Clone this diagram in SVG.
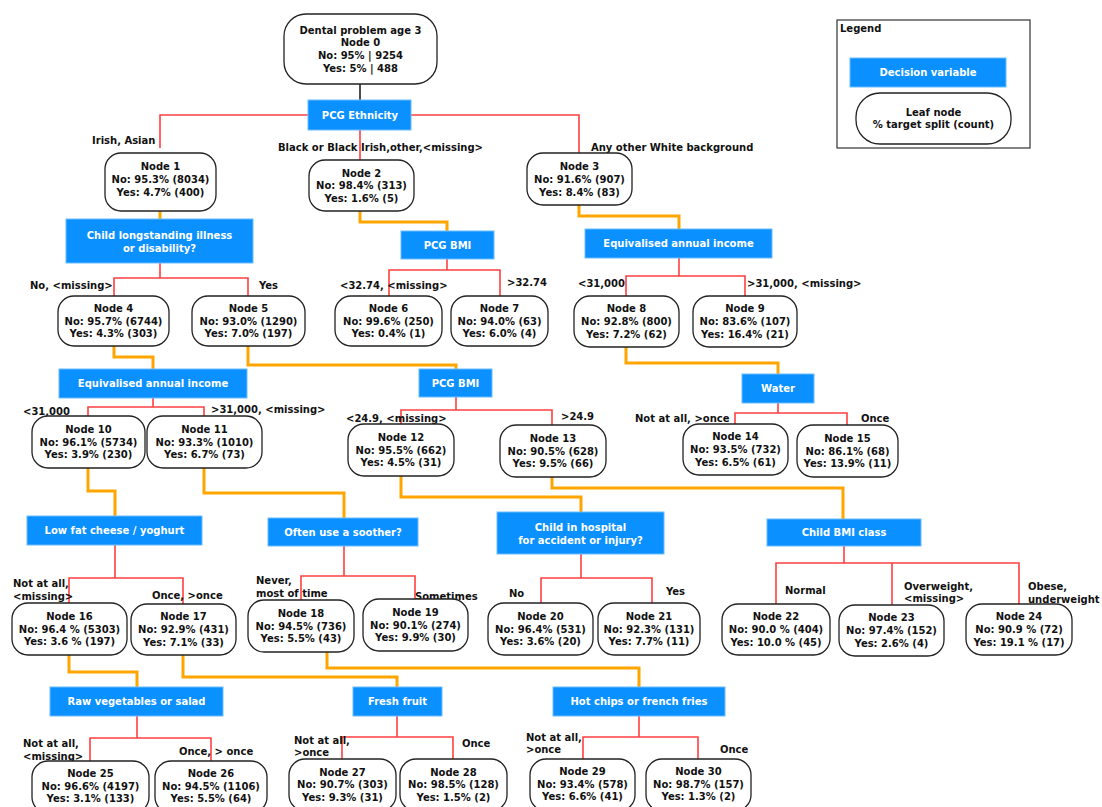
<svg xmlns="http://www.w3.org/2000/svg" width="1102" height="807" viewBox="0 0 1102 807">
<style>
text{font-family:"DejaVu Sans","Liberation Sans",sans-serif;font-weight:bold;font-size:10px;fill:#111}
.n rect{fill:#fff;stroke:#222;stroke-width:1.3}
.n text{text-anchor:middle}
.d rect{fill:#0a90ff;stroke:#6cbcff;stroke-width:1}
.d text{fill:#fff;text-anchor:middle}
.red{fill:none;stroke:#ff4040;stroke-width:1.6}
.or{fill:none;stroke:#ffa500;stroke-width:3}
.blk{fill:none;stroke:#222;stroke-width:1.6}
</style>
<rect width="1102" height="807" fill="#fff"/>
<g id="connectors">
<path class="blk" d="M360,84V100"/>
<path class="red" d="M308,115H160V148M360,130V160M411,115H579V153"/>
<path class="red" d="M160,263V278M114,296V278H248V296"/>
<path class="red" d="M447,259V270M389,296V270H500V296"/>
<path class="red" d="M679,258V276M626,296V276H745V296"/>
<path class="red" d="M153,398V407M88,416V407H204V416"/>
<path class="red" d="M456,397V410M401,424V410H552V425"/>
<path class="red" d="M778,403V413M735,424V413H847V425"/>
<path class="red" d="M115,545V578M69,603V578H183V604"/>
<path class="red" d="M344,546V576M301,600V576H415V599"/>
<path class="red" d="M581,554V578M541,603V578H652V603"/>
<path class="red" d="M844,546V563M776,604V563H1019V604M892,563V605"/>
<path class="red" d="M137,716V738M90,761V738H211V761"/>
<path class="red" d="M397,716V737M342,759V737H453V759"/>
<path class="red" d="M639,715V737M583,759V737H698V759"/>
<path class="or" d="M160,211V219"/>
<path class="or" d="M360,211V222H447V231"/>
<path class="or" d="M579,205V216H679V229"/>
<path class="or" d="M114,346V357H153V369"/>
<path class="or" d="M248,346V365H456V369"/>
<path class="or" d="M626,347V363H778V374"/>
<path class="or" d="M88,468V491H115V516"/>
<path class="or" d="M204,468V493H344V518"/>
<path class="or" d="M401,476V497H581V512"/>
<path class="or" d="M552,477V488H843V519"/>
<path class="or" d="M69,655V672H137V687"/>
<path class="or" d="M183,655V677H397V687"/>
<path class="or" d="M327,652V668H639V687"/>
</g>
<g id="labels">
<text x="92" y="143.5">Irish, Asian</text>
<text x="278" y="150.5">Black or Black Irish,other,&lt;missing&gt;</text>
<text x="591" y="150.5">Any other White background</text>
<text x="30" y="288.5">No, &lt;missing&gt;</text>
<text x="259" y="289">Yes</text>
<text x="340" y="288.5">&lt;32.74, &lt;missing&gt;</text>
<text x="507" y="285.5">&gt;32.74</text>
<text x="578" y="286.5">&lt;31,000</text>
<text x="747" y="286.5">&gt;31,000, &lt;missing&gt;</text>
<text x="23" y="415">&lt;31,000</text>
<text x="211" y="412.5">&gt;31,000, &lt;missing&gt;</text>
<text x="346" y="421.5">&lt;24.9, &lt;missing&gt;</text>
<text x="561" y="419.5">&gt;24.9</text>
<text x="635" y="421.5">Not at all, &gt;once</text>
<text x="861" y="421.5">Once</text>
<text x="13" y="586.5">Not at all,</text>
<text x="13" y="599.5">&lt;missing&gt;</text>
<text x="152" y="599">Once, &gt;once</text>
<text x="256" y="584">Never,</text>
<text x="256" y="596.5">most of time</text>
<text x="415" y="599.5">Sometimes</text>
<text x="509" y="596.5">No</text>
<text x="666" y="594.5">Yes</text>
<text x="785" y="593.5">Normal</text>
<text x="904" y="589.5">Overweight,</text>
<text x="904" y="601.5">&lt;missing&gt;</text>
<text x="1028" y="589.5">Obese,</text>
<text x="1028" y="602.5">underweight</text>
<text x="23" y="746.5">Not at all,</text>
<text x="23" y="759.5">&lt;missing&gt;</text>
<text x="179" y="754.5">Once, &gt; once</text>
<text x="294" y="743.5">Not at all,</text>
<text x="294" y="755.5">&gt;once</text>
<text x="462" y="746.5">Once</text>
<text x="526" y="740.5">Not at all,</text>
<text x="526" y="753">&gt;once</text>
<text x="720" y="752.5">Once</text>
</g>
<g id="legend">
<rect x="837" y="20" width="193" height="128" fill="#fff" stroke="#333" stroke-width="1.2"/>
<text x="840" y="31.5">Legend</text>
<g class="d"><rect x="850" y="58" width="156" height="29"/><text x="928" y="75.5">Decision variable</text></g>
<g class="n"><rect x="856" y="93" width="155" height="51" rx="24"/><text x="933.5" y="115.5">Leaf node</text><text x="933.5" y="128">% target split (count)</text></g>
</g>
<g id="node0" class="n"><rect x="284" y="14" width="153" height="70" rx="22" stroke-width="2.5"/><text x="360.5" y="33.7">Dental problem age 3</text><text x="360.5" y="46.4">Node 0</text><text x="360.5" y="59.1">No: 95% | 9254</text><text x="360.5" y="71.8">Yes: 5% | 488</text></g>
<g id="dec_ethnicity" class="d"><rect x="308" y="100" width="103" height="30"/><text x="360" y="118.5">PCG Ethnicity</text></g>
<g id="node1" class="n"><rect x="105" y="153" width="111" height="58" rx="16"/><text x="160.5" y="169.5">Node 1</text><text x="160.5" y="182.5">No: 95.3% (8034)</text><text x="160.5" y="195.5">Yes: 4.7% (400)</text></g>
<g id="node2" class="n"><rect x="309" y="160" width="105" height="51" rx="16"/><text x="361.5" y="176.5">Node 2</text><text x="361.5" y="189.2">No: 98.4% (313)</text><text x="361.5" y="201.9">Yes: 1.6% (5)</text></g>
<g id="node3" class="n"><rect x="527" y="153" width="105" height="52" rx="16"/><text x="579.5" y="169.5">Node 3</text><text x="579.5" y="182.5">No: 91.6% (907)</text><text x="579.5" y="195.5">Yes: 8.4% (83)</text></g>
<g id="dec_illness" class="d"><rect x="66" y="219" width="187" height="44"/><text x="159.5" y="238.5">Child longstanding illness</text><text x="159.5" y="251.5">or disability?</text></g>
<g id="dec_bmi1" class="d"><rect x="401" y="231" width="93" height="28"/><text x="447.5" y="248.5">PCG BMI</text></g>
<g id="dec_income_r" class="d"><rect x="585" y="229" width="187" height="29"/><text x="678.5" y="246.5">Equivalised annual income</text></g>
<g id="node4" class="n"><rect x="58" y="296" width="111" height="50" rx="16"/><text x="113.5" y="311.8">Node 4</text><text x="113.5" y="324.5">No: 95.7% (6744)</text><text x="113.5" y="337.2">Yes: 4.3% (303)</text></g>
<g id="node5" class="n"><rect x="192" y="296" width="113" height="50" rx="16"/><text x="248.5" y="311.8">Node 5</text><text x="248.5" y="324.5">No: 93.0% (1290)</text><text x="248.5" y="337.2">Yes: 7.0% (197)</text></g>
<g id="node6" class="n"><rect x="335" y="296" width="107" height="50" rx="16"/><text x="388.5" y="311.8">Node 6</text><text x="388.5" y="324.5">No: 99.6% (250)</text><text x="388.5" y="337.2">Yes: 0.4% (1)</text></g>
<g id="node7" class="n"><rect x="451" y="296" width="97" height="50" rx="16"/><text x="499.5" y="311.8">Node 7</text><text x="499.5" y="324.5">No: 94.0% (63)</text><text x="499.5" y="337.2">Yes: 6.0% (4)</text></g>
<g id="node8" class="n"><rect x="574" y="296" width="105" height="51" rx="16"/><text x="626.5" y="312.3">Node 8</text><text x="626.5" y="325">No: 92.8% (800)</text><text x="626.5" y="337.7">Yes: 7.2% (62)</text></g>
<g id="node9" class="n"><rect x="693" y="296" width="104" height="51" rx="16"/><text x="745" y="312.3">Node 9</text><text x="745" y="325">No: 83.6% (107)</text><text x="745" y="337.7">Yes: 16.4% (21)</text></g>
<g id="dec_income_l" class="d"><rect x="59" y="369" width="188" height="29"/><text x="153" y="386.5">Equivalised annual income</text></g>
<g id="dec_bmi2" class="d"><rect x="419" y="369" width="73" height="28"/><text x="455.5" y="386.5">PCG BMI</text></g>
<g id="dec_water" class="d"><rect x="742" y="374" width="72" height="29"/><text x="778" y="391.5">Water</text></g>
<g id="node10" class="n"><rect x="32" y="416" width="113" height="52" rx="16"/><text x="88.5" y="432.8">Node 10</text><text x="88.5" y="445.5">No: 96.1% (5734)</text><text x="88.5" y="458.2">Yes: 3.9% (230)</text></g>
<g id="node11" class="n"><rect x="147" y="416" width="115" height="52" rx="16"/><text x="204.5" y="432.8">Node 11</text><text x="204.5" y="445.5">No: 93.3% (1010)</text><text x="204.5" y="458.2">Yes: 6.7% (73)</text></g>
<g id="node12" class="n"><rect x="348" y="424" width="106" height="52" rx="16"/><text x="401" y="440.8">Node 12</text><text x="401" y="453.5">No: 95.5% (662)</text><text x="401" y="466.2">Yes: 4.5% (31)</text></g>
<g id="node13" class="n"><rect x="500" y="425" width="106" height="52" rx="16"/><text x="553" y="441.8">Node 13</text><text x="553" y="454.5">No: 90.5% (628)</text><text x="553" y="467.2">Yes: 9.5% (66)</text></g>
<g id="node14" class="n"><rect x="683" y="424" width="105" height="51" rx="16"/><text x="735.5" y="440.3">Node 14</text><text x="735.5" y="453">No: 93.5% (732)</text><text x="735.5" y="465.7">Yes: 6.5% (61)</text></g>
<g id="node15" class="n"><rect x="797" y="425" width="101" height="52" rx="16"/><text x="847.5" y="441.8">Node 15</text><text x="847.5" y="454.5">No: 86.1% (68)</text><text x="847.5" y="467.2">Yes: 13.9% (11)</text></g>
<g id="dec_lowfat" class="d"><rect x="27" y="516" width="175" height="29"/><text x="114.5" y="533.5">Low fat cheese / yoghurt</text></g>
<g id="dec_soother" class="d"><rect x="268" y="518" width="150" height="28"/><text x="343" y="535.5">Often use a soother?</text></g>
<g id="dec_hospital" class="d"><rect x="497" y="512" width="167" height="42"/><text x="580.5" y="530.5">Child in hospital</text><text x="580.5" y="543.5">for accident or injury?</text></g>
<g id="dec_childbmi" class="d"><rect x="767" y="519" width="154" height="27"/><text x="844" y="535.5">Child BMI class</text></g>
<g id="node16" class="n"><rect x="12" y="603" width="115" height="52" rx="16"/><text x="69.5" y="619.8">Node 16</text><text x="69.5" y="632.5">No: 96.4 % (5303)</text><text x="69.5" y="645.2">Yes: 3.6 % (197)</text></g>
<g id="node17" class="n"><rect x="131" y="604" width="105" height="51" rx="16"/><text x="183.5" y="620.3">Node 17</text><text x="183.5" y="633">No: 92.9% (431)</text><text x="183.5" y="645.7">Yes: 7.1% (33)</text></g>
<g id="node18" class="n"><rect x="248" y="600" width="106" height="52" rx="16"/><text x="301" y="616.8">Node 18</text><text x="301" y="629.5">No: 94.5% (736)</text><text x="301" y="642.2">Yes: 5.5% (43)</text></g>
<g id="node19" class="n"><rect x="363" y="599" width="105" height="52" rx="16"/><text x="415.5" y="615.8">Node 19</text><text x="415.5" y="628.5">No: 90.1% (274)</text><text x="415.5" y="641.2">Yes: 9.9% (30)</text></g>
<g id="node20" class="n"><rect x="488" y="603" width="105" height="52" rx="16"/><text x="540.5" y="619.8">Node 20</text><text x="540.5" y="632.5">No: 96.4% (531)</text><text x="540.5" y="645.2">Yes: 3.6% (20)</text></g>
<g id="node21" class="n"><rect x="598" y="603" width="102" height="52" rx="16"/><text x="649" y="619.8">Node 21</text><text x="649" y="632.5">No: 92.3% (131)</text><text x="649" y="645.2">Yes: 7.7% (11)</text></g>
<g id="node22" class="n"><rect x="722" y="604" width="108" height="51" rx="16"/><text x="776" y="620.3">Node 22</text><text x="776" y="633">No: 90.0 % (404)</text><text x="776" y="645.7">Yes: 10.0 % (45)</text></g>
<g id="node23" class="n"><rect x="839" y="605" width="105" height="51" rx="16"/><text x="891.5" y="621.3">Node 23</text><text x="891.5" y="634">No: 97.4% (152)</text><text x="891.5" y="646.7">Yes: 2.6% (4)</text></g>
<g id="node24" class="n"><rect x="966" y="604" width="106" height="51" rx="16"/><text x="1019" y="620.3">Node 24</text><text x="1019" y="633">No: 90.9 % (72)</text><text x="1019" y="645.7">Yes: 19.1 % (17)</text></g>
<g id="dec_raw" class="d"><rect x="50" y="687" width="173" height="29"/><text x="136.5" y="704.5">Raw vegetables or salad</text></g>
<g id="dec_fruit" class="d"><rect x="353" y="687" width="89" height="29"/><text x="397.5" y="704.5">Fresh fruit</text></g>
<g id="dec_chips" class="d"><rect x="553" y="687" width="172" height="29"/><text x="639" y="704.5">Hot chips or french fries</text></g>
<g id="node25" class="n"><rect x="32" y="761" width="117" height="52" rx="16"/><text x="90.5" y="777">Node 25</text><text x="90.5" y="789.7">No: 96.6% (4197)</text><text x="90.5" y="802.4">Yes: 3.1% (133)</text></g>
<g id="node26" class="n"><rect x="155" y="761" width="112" height="52" rx="16"/><text x="211" y="777">Node 26</text><text x="211" y="789.7">No: 94.5% (1106)</text><text x="211" y="802.4">Yes: 5.5% (64)</text></g>
<g id="node27" class="n"><rect x="289" y="759" width="107" height="52" rx="16"/><text x="342.5" y="775.5">Node 27</text><text x="342.5" y="788.2">No: 90.7% (303)</text><text x="342.5" y="800.9">Yes: 9.3% (31)</text></g>
<g id="node28" class="n"><rect x="400" y="759" width="107" height="52" rx="16"/><text x="453.5" y="775.5">Node 28</text><text x="453.5" y="788.2">No: 98.5% (128)</text><text x="453.5" y="800.9">Yes: 1.5% (2)</text></g>
<g id="node29" class="n"><rect x="530" y="759" width="105" height="52" rx="16"/><text x="582.5" y="775">Node 29</text><text x="582.5" y="787.7">No: 93.4% (578)</text><text x="582.5" y="800.4">Yes: 6.6% (41)</text></g>
<g id="node30" class="n"><rect x="646" y="759" width="105" height="52" rx="16"/><text x="698.5" y="775">Node 30</text><text x="698.5" y="787.7">No: 98.7% (157)</text><text x="698.5" y="800.4">Yes: 1.3% (2)</text></g>
</svg>
